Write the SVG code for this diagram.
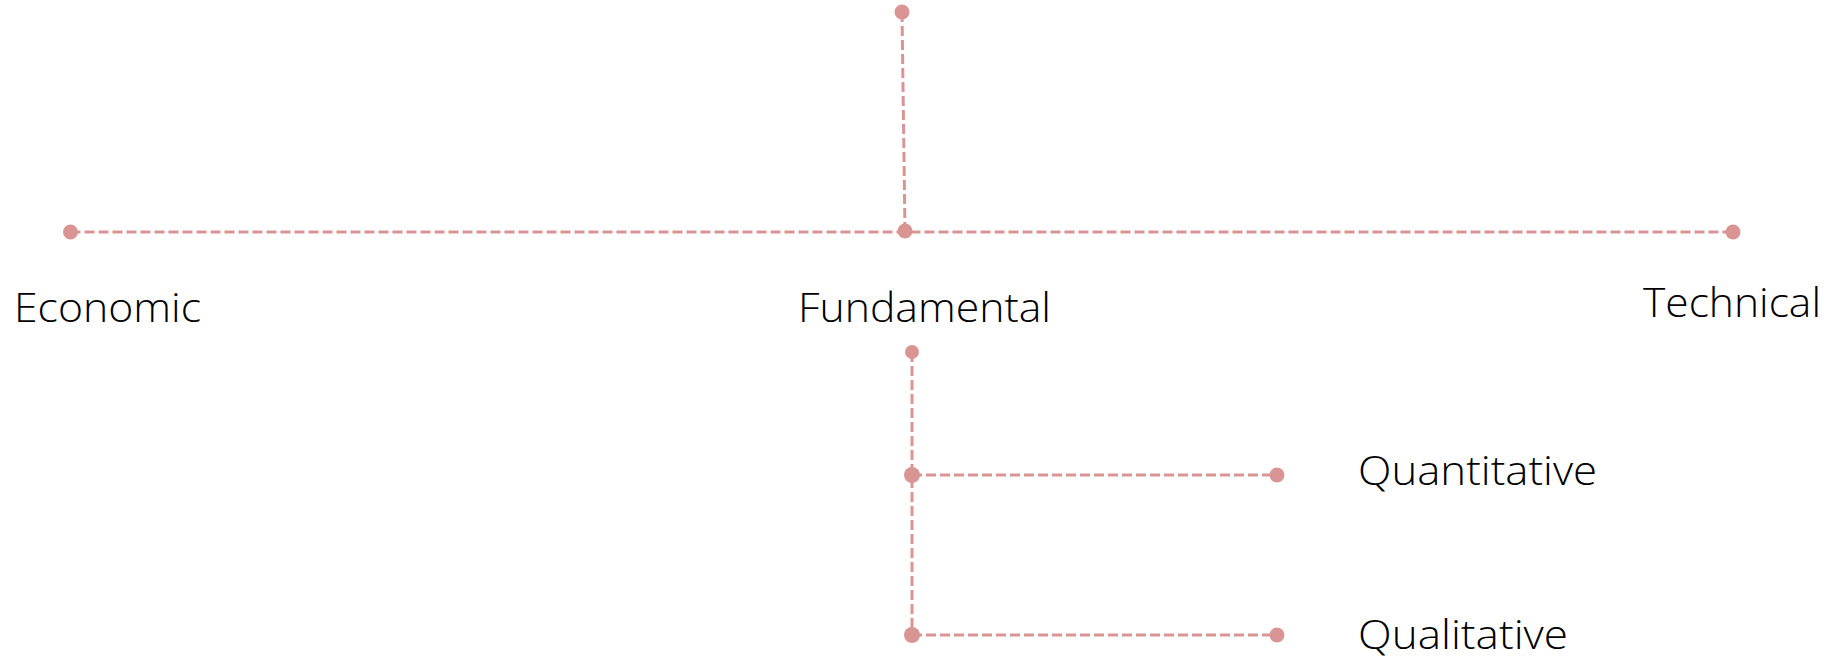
<svg xmlns="http://www.w3.org/2000/svg" width="1841" height="660" viewBox="0 0 1841 660">
<style>
.ln{stroke:#d99594;stroke-width:3;stroke-dasharray:10 4;fill:none}
.dot{fill:#d99594}
.lbl{font-family:"Open Sans","Liberation Sans",sans-serif;font-weight:300;font-size:40px;fill:#000}
</style>
<rect width="1841" height="660" fill="#fff"/>
<g id="connectors">
<line class="ln" x1="902" y1="12" x2="905" y2="231"/>
<line class="ln" x1="70.5" y1="232" x2="1733" y2="232"/>
<line class="ln" x1="912" y1="352" x2="912" y2="635"/>
<line class="ln" x1="912" y1="475" x2="1277" y2="475"/>
<line class="ln" x1="912" y1="635" x2="1277" y2="635"/>
</g>
<g id="top"><circle class="dot" cx="902" cy="12" r="7.5"/></g>
<g id="economic"><circle class="dot" cx="70.5" cy="232" r="7.5"/><text class="lbl" x="14" y="322" textLength="187" lengthAdjust="spacingAndGlyphs">Economic</text></g>
<g id="fundamental"><circle class="dot" cx="905" cy="231" r="7.5"/><text class="lbl" x="798" y="322" textLength="253" lengthAdjust="spacingAndGlyphs">Fundamental</text><circle class="dot" cx="912" cy="352" r="7"/></g>
<g id="technical"><circle class="dot" cx="1733" cy="232" r="7.5"/><text class="lbl" x="1643" y="317" textLength="178" lengthAdjust="spacingAndGlyphs">Technical</text></g>
<g id="quantitative"><circle class="dot" cx="912" cy="475" r="8"/><circle class="dot" cx="1277" cy="475" r="7.5"/><text class="lbl" x="1358" y="485" textLength="239" lengthAdjust="spacingAndGlyphs">Quantitative</text></g>
<g id="qualitative"><circle class="dot" cx="912" cy="635" r="8"/><circle class="dot" cx="1277" cy="635" r="7.5"/><text class="lbl" x="1358" y="649" textLength="210" lengthAdjust="spacingAndGlyphs">Qualitative</text></g>
</svg>
